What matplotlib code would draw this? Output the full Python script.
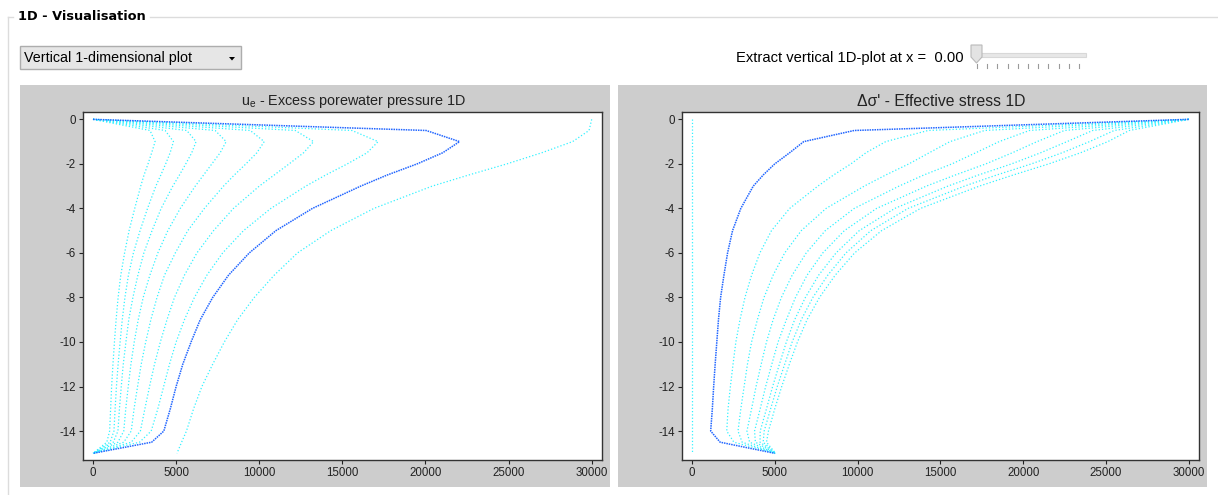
import numpy as np
import matplotlib.pyplot as plt
from matplotlib.patches import Rectangle, Polygon
from matplotlib.lines import Line2D

plt.rcParams['font.family'] = ['Liberation Sans', 'DejaVu Sans']
plt.rcParams['axes.unicode_minus'] = False

# depths of the nodes (m)
depth = [0, -0.5, -1, -1.5, -2, -2.5, -3, -4, -5, -6, -7, -8, -9, -10, -11, -12, -13, -14, -14.5, -15]

# excess porewater pressure u_e, one list per time step
u_t0 = [30000, 29840, 28850, 27000, 24900, 22600, 20400, 16900, 14300, 12300, 10900, 9700, 8700, 7900, 7200, 6550, 6050, 5620, 5330, 5050]
u_t1 = [0, 20040, 22050, 21040, 19500, 17700, 16100, 13200, 11000, 9400, 8150, 7200, 6450, 5900, 5400, 5000, 4650, 4260, 3530, 0]
u_t2 = [0, 15580, 17150, 16490, 15300, 14000, 12800, 10700, 9050, 7800, 6850, 6100, 5500, 5000, 4600, 4250, 3900, 3500, 2800, 0]
u_t3 = [0, 12170, 13270, 12670, 11800, 10900, 10000, 8450, 7250, 6250, 5500, 4900, 4450, 4050, 3700, 3400, 3120, 2850, 2300, 0]
u_t4 = [0, 9460, 10300, 9860, 9200, 8500, 7850, 6700, 5700, 4950, 4300, 3850, 3480, 3170, 2900, 2680, 2470, 2300, 1850, 0]
u_t5 = [0, 7350, 8010, 7650, 7150, 6650, 6150, 5250, 4500, 3900, 3420, 3020, 2720, 2480, 2280, 2120, 1970, 1850, 1500, 0]
u_t6 = [0, 5640, 6200, 5940, 5580, 5200, 4800, 4100, 3550, 3060, 2700, 2400, 2150, 1980, 1820, 1700, 1590, 1500, 1220, 0]
u_t7 = [0, 4340, 4840, 4640, 4370, 4080, 3780, 3280, 2830, 2430, 2130, 1920, 1760, 1630, 1510, 1410, 1330, 1260, 1030, 0]
u_t8 = [0, 3430, 3735, 3530, 3310, 3070, 2870, 2510, 2170, 1900, 1670, 1510, 1390, 1290, 1200, 1120, 1060, 1000, 830, 0]

# effective stress increase, one list per time step
s_t0 = [0] * 20
s_t1 = [30000, 9800, 6750, 5900, 5000, 4300, 3700, 2950, 2450, 2150, 1930, 1730, 1600, 1500, 1400, 1310, 1230, 1130, 1700, 5000]
s_t2 = [30000, 14260, 11700, 10510, 9600, 8550, 7600, 5900, 4800, 4100, 3600, 3200, 2900, 2650, 2480, 2320, 2180, 2100, 2530, 5050]
s_t3 = [30000, 17670, 15580, 14330, 13100, 11700, 10400, 8100, 6600, 5600, 4900, 4350, 3950, 3600, 3350, 3150, 2950, 2780, 3030, 5050]
s_t4 = [30000, 20380, 18550, 17140, 15700, 14000, 12500, 9800, 8050, 6900, 6050, 5400, 4900, 4500, 4180, 3870, 3600, 3320, 3480, 5050]
s_t5 = [30000, 22490, 20840, 19350, 17750, 15900, 14150, 11150, 9200, 7900, 6950, 6250, 5700, 5200, 4820, 4450, 4120, 3780, 3830, 5050]
s_t6 = [30000, 24200, 22650, 21060, 19300, 17300, 15450, 12250, 10100, 8700, 7650, 6850, 6200, 5700, 5280, 4870, 4500, 4120, 4110, 5050]
s_t7 = [30000, 25500, 24010, 22360, 20500, 18400, 16450, 13050, 10800, 9300, 8200, 7300, 6600, 6050, 5600, 5150, 4750, 4360, 4300, 5050]
s_t8 = [30000, 26410, 25115, 23470, 21550, 19400, 17350, 13800, 11450, 9820, 8650, 7700, 6950, 6370, 5880, 5420, 5000, 4620, 4500, 5050]

u_steps = [u_t0, u_t1, u_t2, u_t3, u_t4, u_t5, u_t6, u_t7, u_t8]
s_steps = [s_t0, s_t1, s_t2, s_t3, s_t4, s_t5, s_t6, s_t7, s_t8]
selected = 1

W, H = 1218, 495
fig = plt.figure(figsize=(W / 100, H / 100), dpi=100)
fig.patch.set_facecolor('white')


def box(x0, y0, x1, y1):
    return [x0 / W, 1 - y1 / H, (x1 - x0) / W, (y1 - y0) / H]


def rect(x0, y0, x1, y1, **kw):
    fig.patches.append(Rectangle((x0 / W, 1 - y1 / H), (x1 - x0) / W, (y1 - y0) / H,
                                 transform=fig.transFigure, figure=fig, zorder=-5, **kw))


def hline(x0, x1, y, **kw):
    fig.lines.append(Line2D([x0 / W, x1 / W], [1 - y / H, 1 - y / H], transform=fig.transFigure, **kw))


# group box
hline(150, W, 17, color='#dcdcdc', lw=1)
hline(8, 13, 17, color='#dcdcdc', lw=1)
fig.lines.append(Line2D([8 / W, 8 / W], [1 - 17 / H, 0], transform=fig.transFigure, color='#dcdcdc', lw=1))
fig.text(18 / W, 1 - 17 / H, '1D - Visualisation', fontsize=9.3, fontweight='bold',
         family='DejaVu Sans', va='center', ha='left')

# combo box
rect(20, 46, 241, 69, facecolor='#e6e6e6', edgecolor='#adadad', lw=1)
fig.text(24 / W, 1 - 58 / H, 'Vertical 1-dimensional plot', fontsize=10.3, va='center', ha='left')
fig.patches.append(Polygon([(229 / W, 1 - 57 / H), (235 / W, 1 - 57 / H), (232 / W, 1 - 60.5 / H)],
                           closed=True, transform=fig.transFigure, facecolor='black', edgecolor='none'))

# slider
fig.text(736 / W, 1 - 58 / H, 'Extract vertical 1D-plot at x =  0.00', fontsize=10.6, va='center', ha='left')
rect(981, 53, 1086, 57, facecolor='#e7e7e7', edgecolor='#d8d8d8', lw=0.8)
fig.patches.append(Polygon([(971 / W, 1 - 45 / H), (982 / W, 1 - 45 / H), (982 / W, 1 - 57 / H),
                            (976.5 / W, 1 - 63 / H), (971 / W, 1 - 57 / H)],
                           closed=True, transform=fig.transFigure, facecolor='#e3e3e3', edgecolor='#b9b9b9', lw=0.8))
for tx in np.linspace(977, 1079, 11):
    fig.lines.append(Line2D([tx / W, tx / W], [1 - 64 / H, 1 - 68 / H], transform=fig.transFigure,
                            color='#9a9a9a', lw=0.8))

# grey panels behind the plots
rect(20, 85, 610, 487, facecolor='#cdcdcd', edgecolor='none')
rect(618, 85, 1207, 487, facecolor='#cdcdcd', edgecolor='none')

cyan = '#33f2ff'
blue = '#2266ff'


def setup(ax):
    ax.set_facecolor('white')
    ax.set_zorder(2)
    ax.set_xlim(-602, 30620)
    ax.set_ylim(-15.3, 0.33)
    ax.set_xticks(np.arange(0, 30001, 5000))
    ax.set_yticks(np.arange(0, -15, -2))
    ax.tick_params(direction='out', length=3, width=0.8, labelsize=8.3, pad=2, colors='#222222')
    for sp in ax.spines.values():
        sp.set_color('#333333')
        sp.set_linewidth(1)


ax1 = fig.add_axes(box(83, 112, 602, 460))
setup(ax1)
for i, u in enumerate(u_steps):
    if i != selected:
        ax1.plot(u, depth, color=cyan, lw=0.9, ls=':')
ax1.plot(u_steps[selected], depth, color=blue, lw=1.1, ls=(0, (1, 0.6)))
fig.text(353 / W, 1 - 101 / H, 'u$_\\mathregular{e}$ - Excess porewater pressure 1D', fontsize=10.4,
         ha='center', va='center', color='#222222')

ax2 = fig.add_axes(box(682, 112, 1199, 460))
setup(ax2)
for i, s in enumerate(s_steps):
    if i != selected:
        ax2.plot(s, depth, color=cyan, lw=0.9, ls=':')
ax2.plot(s_steps[selected], depth, color=blue, lw=1.1, ls=(0, (1, 0.6)))
fig.text(941 / W, 1 - 101 / H, "\u0394\u03c3' - Effective stress 1D", fontsize=11.3,
         ha='center', va='center', color='#222222')

fig.savefig('out.png', dpi=100)
